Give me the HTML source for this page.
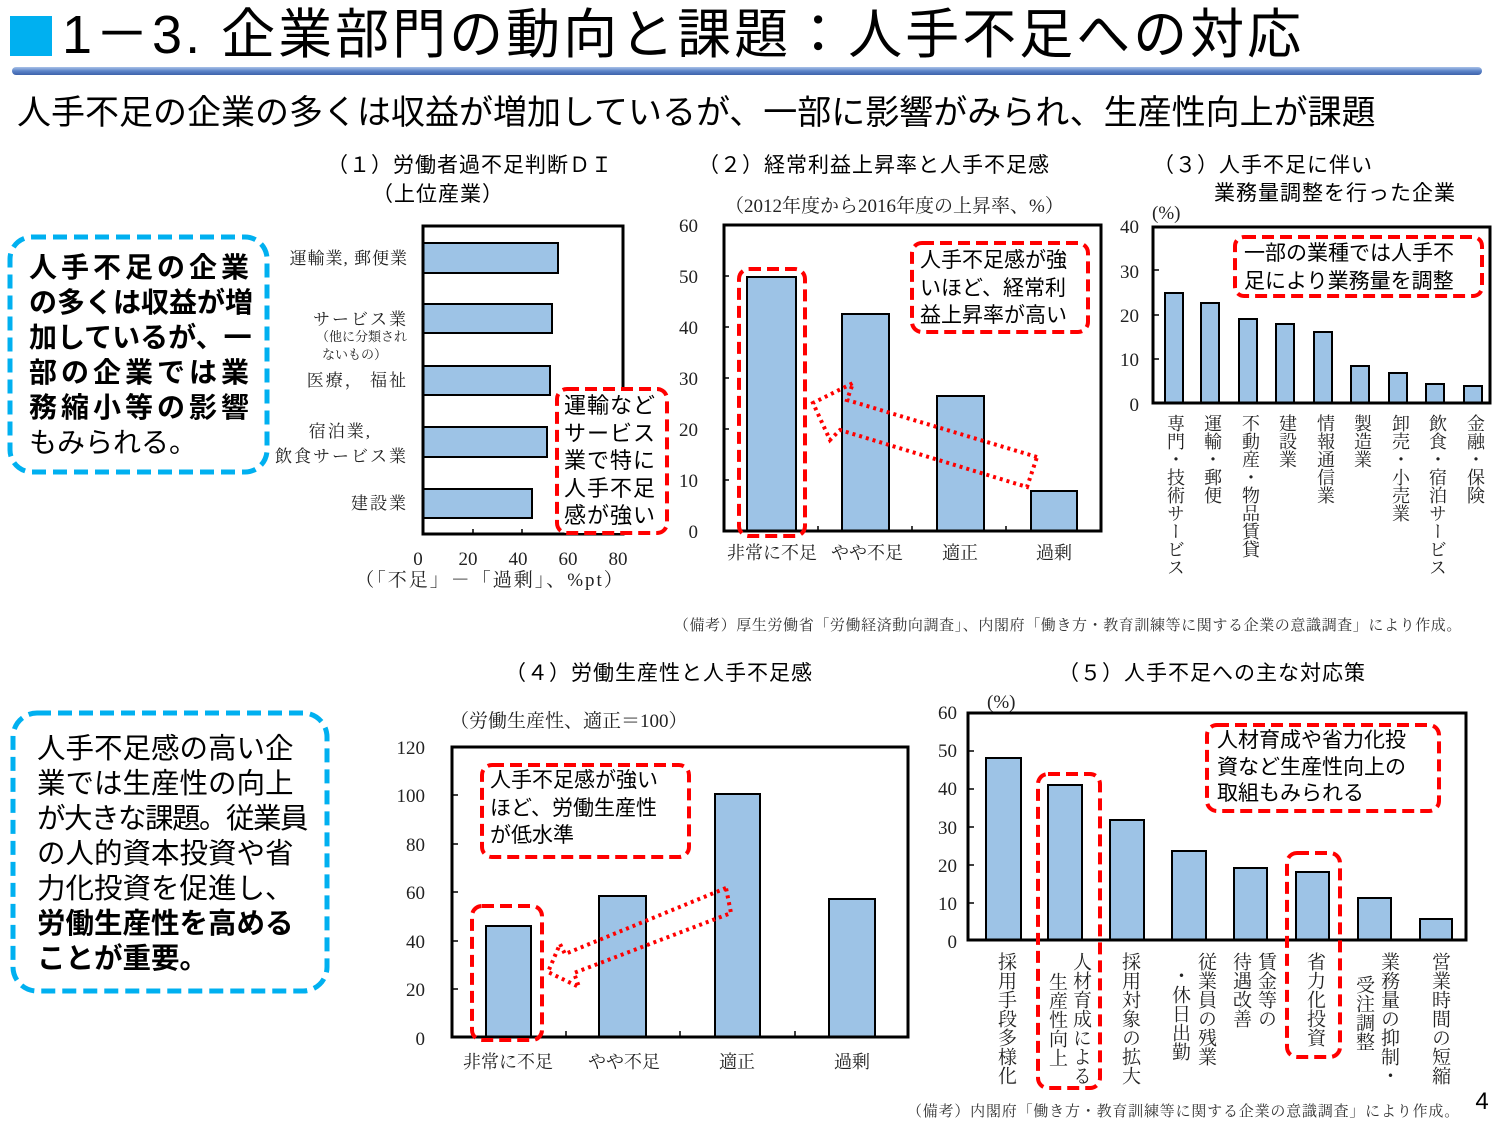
<!DOCTYPE html>
<html><head><meta charset="utf-8"><style>
body{margin:0;width:1500px;height:1125px;background:#fff;position:relative;overflow:hidden;font-family:"Liberation Sans","Noto Sans CJK JP",sans-serif}
.a{position:absolute;white-space:nowrap}
.t{font-size:21px;line-height:26px;letter-spacing:1px}
.v{position:absolute;writing-mode:vertical-rl;font-family:"Liberation Serif","Noto Serif CJK JP",serif;font-size:18px;line-height:18px;color:#222;white-space:nowrap}
.v5{font-size:19px;line-height:19px}
</style></head><body>
<svg width="1500" height="1125" style="position:absolute;left:0;top:0" font-family="'Liberation Serif','Noto Serif CJK JP',serif">
<defs><linearGradient id="g" x1="0" y1="0" x2="0" y2="1"><stop offset="0" stop-color="#a9c2e8"/><stop offset="0.5" stop-color="#5b83c8"/><stop offset="1" stop-color="#3d62aa"/></linearGradient></defs>
<rect x="10" y="16" width="42" height="40" fill="#00b0f0"/>
<rect x="12" y="67" width="1470" height="8" rx="4" fill="url(#g)"/>
<rect x="10" y="237" width="257" height="235" rx="22" fill="none" stroke="#00b0f0" stroke-width="5" stroke-dasharray="14 7"/>
<rect x="13" y="713" width="314" height="278" rx="24" fill="none" stroke="#00b0f0" stroke-width="5" stroke-dasharray="14 7"/>
<!-- chart1 -->
<g stroke="#000" stroke-width="2" fill="#9dc3e6">
<rect x="423" y="243" width="135" height="30"/><rect x="423" y="304" width="129" height="29"/><rect x="423" y="366" width="127" height="29"/><rect x="423" y="427" width="124" height="30"/><rect x="423" y="489" width="109" height="29"/>
</g>
<rect x="423" y="226" width="200" height="308" fill="none" stroke="#000" stroke-width="3"/>
<g stroke="#000" stroke-width="1.5"><line x1="473" y1="534" x2="473" y2="529"/><line x1="522" y1="534" x2="522" y2="529"/><line x1="572" y1="534" x2="572" y2="529"/></g>
<g font-size="19" fill="#222" text-anchor="middle"><text x="418" y="565">0</text><text x="468" y="565">20</text><text x="518" y="565">40</text><text x="568" y="565">60</text><text x="618" y="565">80</text></g>
<text x="490" y="586" font-size="19" fill="#222" text-anchor="middle" letter-spacing="2">（「不足」－「過剰」、%pt）</text>
<g font-size="17" fill="#222" text-anchor="end"><text x="408" y="264" letter-spacing="1">運輸業, 郵便業</text><text x="408" y="325" letter-spacing="2">サービス業</text><text x="408" y="386" letter-spacing="2">医療， 福祉</text><text x="372" y="437" letter-spacing="2">宿泊業,</text><text x="408" y="462" letter-spacing="2">飲食サービス業</text><text x="408" y="509" letter-spacing="2">建設業</text></g>
<g font-size="13" fill="#222"><text x="316" y="341">（他に分類され</text><text x="322" y="359">ないもの）</text></g>
<rect x="557" y="389" width="110" height="144" rx="10" fill="#fff" stroke="#f00" stroke-width="4" stroke-dasharray="12 6"/>
<!-- chart2 -->
<g font-size="19" fill="#222" text-anchor="end"><text x="698" y="232">60</text><text x="698" y="283">50</text><text x="698" y="334">40</text><text x="698" y="385">30</text><text x="698" y="436">20</text><text x="698" y="487">10</text><text x="698" y="538">0</text></g>
<text x="725" y="212" font-size="19" fill="#222">（2012年度から2016年度の上昇率、%）</text>
<g stroke="#000" stroke-width="2" fill="#9dc3e6"><rect x="747" y="277" width="49" height="254"/><rect x="842" y="314" width="47" height="217"/><rect x="937" y="396" width="47" height="135"/><rect x="1031" y="491" width="46" height="40"/></g>
<rect x="724" y="225" width="377" height="306" fill="none" stroke="#000" stroke-width="3"/>
<g stroke="#000" stroke-width="1.5"><line x1="818" y1="531" x2="818" y2="526"/><line x1="912" y1="531" x2="912" y2="526"/><line x1="1006" y1="531" x2="1006" y2="526"/><line x1="724" y1="276" x2="729" y2="276"/><line x1="724" y1="327" x2="729" y2="327"/><line x1="724" y1="378" x2="729" y2="378"/><line x1="724" y1="429" x2="729" y2="429"/><line x1="724" y1="480" x2="729" y2="480"/></g>
<rect x="739" y="269" width="66" height="267" rx="10" fill="none" stroke="#f00" stroke-width="4" stroke-dasharray="12 6"/>
<rect x="912" y="243" width="176" height="89" rx="10" fill="#fff" stroke="#f00" stroke-width="4" stroke-dasharray="12 6"/>
<polygon points="1037,457 847,400 853,383 813,403 830,440 840,430 1027,487" fill="none" stroke="#f00" stroke-width="4" stroke-dasharray="3 4"/>
<g font-size="18" fill="#222" text-anchor="middle"><text x="772" y="559">非常に不足</text><text x="867" y="559">やや不足</text><text x="960" y="559">適正</text><text x="1054" y="559">過剰</text></g>
<!-- chart3 -->
<g font-size="19" fill="#222" text-anchor="end"><text x="1139" y="233">40</text><text x="1139" y="278">30</text><text x="1139" y="322">20</text><text x="1139" y="366">10</text><text x="1139" y="411">0</text></g>
<text x="1152" y="219" font-size="19" fill="#222">(%)</text>
<g stroke="#000" stroke-width="2" fill="#9dc3e6"><rect x="1165" y="293" width="18" height="110"/><rect x="1201" y="303" width="18" height="100"/><rect x="1239" y="319" width="18" height="84"/><rect x="1276" y="324" width="18" height="79"/><rect x="1314" y="332" width="18" height="71"/><rect x="1351" y="366" width="18" height="37"/><rect x="1389" y="373" width="18" height="30"/><rect x="1426" y="384" width="18" height="19"/><rect x="1464" y="386" width="18" height="17"/></g>
<rect x="1153" y="227" width="337" height="176" fill="none" stroke="#000" stroke-width="3"/>
<g stroke="#000" stroke-width="1.5"><line x1="1153" y1="270" x2="1159" y2="270"/><line x1="1153" y1="315" x2="1159" y2="315"/><line x1="1153" y1="359" x2="1159" y2="359"/></g>
<rect x="1235" y="237" width="247" height="59" rx="9" fill="#fff" stroke="#f00" stroke-width="4" stroke-dasharray="12 6"/>
<!-- chart4 -->
<g font-size="19" fill="#222" text-anchor="end"><text x="425" y="754">120</text><text x="425" y="802">100</text><text x="425" y="851">80</text><text x="425" y="899">60</text><text x="425" y="948">40</text><text x="425" y="996">20</text><text x="425" y="1045">0</text></g>
<text x="450" y="727" font-size="19" fill="#222">（労働生産性、適正＝100）</text>
<g stroke="#000" stroke-width="2" fill="#9dc3e6"><rect x="486" y="926" width="45" height="111"/><rect x="599" y="896" width="47" height="141"/><rect x="715" y="794" width="45" height="243"/><rect x="829" y="899" width="46" height="138"/></g>
<rect x="452" y="747" width="456" height="290" fill="none" stroke="#000" stroke-width="3"/>
<g stroke="#000" stroke-width="1.5"><line x1="452" y1="795" x2="458" y2="795"/><line x1="452" y1="844" x2="458" y2="844"/><line x1="452" y1="892" x2="458" y2="892"/><line x1="452" y1="941" x2="458" y2="941"/><line x1="452" y1="989" x2="458" y2="989"/><line x1="566" y1="1037" x2="566" y2="1031"/><line x1="680" y1="1037" x2="680" y2="1031"/><line x1="795" y1="1037" x2="795" y2="1031"/></g>
<rect x="472" y="906" width="70" height="134" rx="10" fill="none" stroke="#f00" stroke-width="4" stroke-dasharray="12 6"/>
<rect x="482" y="765" width="207" height="92" rx="10" fill="#fff" stroke="#f00" stroke-width="4" stroke-dasharray="12 6"/>
<polygon points="726,888 565,954 560,944 548,972 579,987 574,973 731,913" fill="none" stroke="#f00" stroke-width="4" stroke-dasharray="3 4"/>
<g font-size="18" fill="#222" text-anchor="middle"><text x="508" y="1068">非常に不足</text><text x="624" y="1068">やや不足</text><text x="737" y="1068">適正</text><text x="852" y="1068">過剰</text></g>
<!-- chart5 -->
<g font-size="19" fill="#222" text-anchor="end"><text x="957" y="719">60</text><text x="957" y="757">50</text><text x="957" y="795">40</text><text x="957" y="834">30</text><text x="957" y="872">20</text><text x="957" y="910">10</text><text x="957" y="948">0</text></g>
<text x="987" y="708" font-size="19" fill="#222">(%)</text>
<g stroke="#000" stroke-width="2" fill="#9dc3e6"><rect x="986" y="758" width="35" height="182"/><rect x="1048" y="785" width="34" height="155"/><rect x="1110" y="820" width="34" height="120"/><rect x="1172" y="851" width="34" height="89"/><rect x="1234" y="868" width="33" height="72"/><rect x="1296" y="872" width="33" height="68"/><rect x="1358" y="898" width="33" height="42"/><rect x="1420" y="919" width="32" height="21"/></g>
<rect x="968" y="713" width="498" height="227" fill="none" stroke="#000" stroke-width="3"/>
<g stroke="#000" stroke-width="1.5"><line x1="968" y1="751" x2="974" y2="751"/><line x1="968" y1="789" x2="974" y2="789"/><line x1="968" y1="827" x2="974" y2="827"/><line x1="968" y1="865" x2="974" y2="865"/><line x1="968" y1="903" x2="974" y2="903"/></g>
<rect x="1038" y="774" width="62" height="314" rx="10" fill="none" stroke="#f00" stroke-width="4" stroke-dasharray="12 6"/>
<rect x="1287" y="853" width="53" height="204" rx="10" fill="none" stroke="#f00" stroke-width="4" stroke-dasharray="12 6"/>
<rect x="1207" y="725" width="232" height="86" rx="10" fill="#fff" stroke="#f00" stroke-width="4" stroke-dasharray="12 6"/>
<text x="1462" y="630" font-size="15" fill="#333" text-anchor="end" letter-spacing="0.6">（備考）厚生労働省「労働経済動向調査」、内閣府「働き方・教育訓練等に関する企業の意識調査」により作成。</text>
<text x="1460" y="1116" font-size="15" fill="#333" text-anchor="end" letter-spacing="0.8">（備考）内閣府「働き方・教育訓練等に関する企業の意識調査」により作成。</text>
<text x="1482" y="1109" font-size="24" fill="#000" text-anchor="middle" font-family="'Liberation Sans',sans-serif">4</text>
</svg>
<div class="a" style="left:62px;top:0px;font-size:54px;line-height:70px;color:#000;letter-spacing:3px">1－3. 企業部門の動向と課題：人手不足への対応</div>
<div class="a" style="left:17px;top:91px;font-size:34px;line-height:44px;color:#000;letter-spacing:0px">人手不足の企業の多くは収益が増加しているが、一部に影響がみられ、生産性向上が課題</div>
<div class="a t" style="left:327px;top:153px">（１）労働者過不足判断ＤＩ</div>
<div class="a t" style="left:372px;top:182px">（上位産業）</div>
<div class="a t" style="left:698px;top:153px">（２）経常利益上昇率と人手不足感</div>
<div class="a t" style="left:1153px;top:153px">（３）人手不足に伴い</div>
<div class="a t" style="left:1214px;top:181px">業務量調整を行った企業</div>
<div class="a t" style="left:505px;top:661px">（４）労働生産性と人手不足感</div>
<div class="a t" style="left:1058px;top:661px">（５）人手不足への主な対応策</div>
<div class="a" style="left:29px;top:250px;font-size:28px;line-height:35px;font-weight:bold"><span style="letter-spacing:4px">人手不足の企業</span><br>の多くは収益が増<br>加しているが、一<br><span style="letter-spacing:4px">部の企業では業</span><br><span style="letter-spacing:4px">務縮小等の影響</span><br><span style="font-weight:normal">もみられる。</span></div>
<div class="a" style="left:37px;top:732px;font-size:28.5px;line-height:35px">人手不足感の高い企<br>業では生産性の向上<br><span style="letter-spacing:-1.5px">が大きな課題。従業員</span><br>の人的資本投資や省<br>力化投資を促進し、<br><b>労働生産性を高める<br>ことが重要。</b></div>
<div class="a" style="left:564px;top:392px;font-size:22px;line-height:27.5px;letter-spacing:1px">運輸など<br>サービス<br>業で特に<br>人手不足<br>感が強い</div>
<div class="a" style="left:920px;top:247px;font-size:21px;line-height:27.5px">人手不足感が強<br>いほど、経常利<br>益上昇率が高い</div>
<div class="a" style="left:1244px;top:240px;font-size:21px;line-height:28px">一部の業種では人手不<br>足により業務量を調整</div>
<div class="a" style="left:490px;top:767px;font-size:21px;line-height:27.5px">人手不足感が強い<br>ほど、労働生産性<br>が低水準</div>
<div class="a" style="left:1217px;top:728px;font-size:21px;line-height:26.5px">人材育成や省力化投<br>資など生産性向上の<br>取組もみられる</div>
<div class="v" style="left:1166px;top:414px">専門・技術サービス</div>
<div class="v" style="left:1203px;top:414px">運輸・郵便</div>
<div class="v" style="left:1241px;top:414px">不動産・物品賃貸</div>
<div class="v" style="left:1278px;top:414px">建設業</div>
<div class="v" style="left:1316px;top:414px">情報通信業</div>
<div class="v" style="left:1353px;top:414px">製造業</div>
<div class="v" style="left:1391px;top:414px">卸売・小売業</div>
<div class="v" style="left:1428px;top:414px">飲食・宿泊サービス</div>
<div class="v" style="left:1466px;top:414px">金融・保険</div>
<div class="v v5" style="left:996px;top:952px">採用手段多様化</div>
<div class="v v5" style="left:1071px;top:952px">人材育成による</div>
<div class="v v5" style="left:1047px;top:972px">生産性向上</div>
<div class="v v5" style="left:1120px;top:952px">採用対象の拡大</div>
<div class="v v5" style="left:1196px;top:952px">従業員の残業</div>
<div class="v v5" style="left:1170px;top:966px">・休日出勤</div>
<div class="v v5" style="left:1256px;top:952px">賃金等の</div>
<div class="v v5" style="left:1231px;top:952px">待遇改善</div>
<div class="v v5" style="left:1305px;top:952px">省力化投資</div>
<div class="v v5" style="left:1379px;top:952px">業務量の抑制・</div>
<div class="v v5" style="left:1354px;top:975px">受注調整</div>
<div class="v v5" style="left:1430px;top:952px">営業時間の短縮</div>
</body></html>
